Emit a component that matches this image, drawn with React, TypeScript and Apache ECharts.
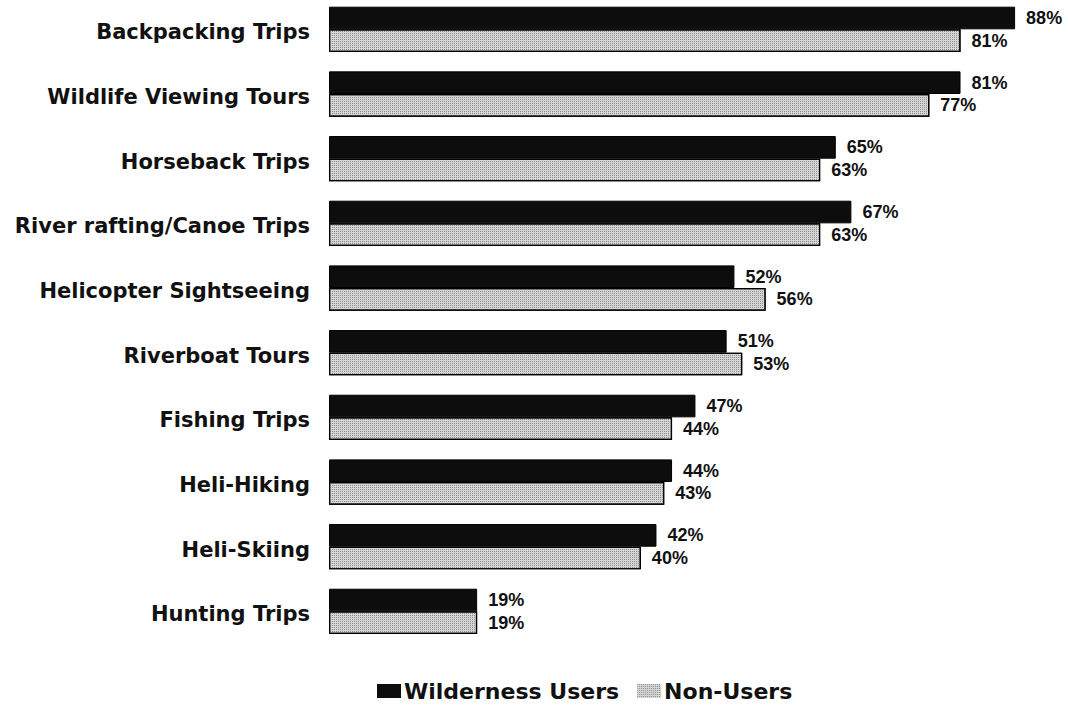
import React, { useEffect, useRef } from "react";
import * as echarts from "echarts";

const categories = [
  "Backpacking Trips",
  "Wildlife Viewing Tours",
  "Horseback Trips",
  "River rafting/Canoe Trips",
  "Helicopter Sightseeing",
  "Riverboat Tours",
  "Fishing Trips",
  "Heli-Hiking",
  "Heli-Skiing",
  "Hunting Trips",
];
const wildernessUsers = [88, 81, 65, 67, 52, 51, 47, 44, 42, 19];
const nonUsers = [81, 77, 63, 63, 56, 53, 44, 43, 40, 19];

export default function App() {
  const ref = useRef<HTMLDivElement>(null);
  useEffect(() => {
    if (!ref.current) return;
    const chart = echarts.init(ref.current, null, { renderer: "svg" });
    const labelStyle = {
      show: true,
      position: "right" as const,
      distance: 11,
      formatter: "{c}%",
      fontFamily: "Liberation Sans, Arial, sans-serif",
      fontWeight: "bold" as const,
      fontSize: 18,
      color: "#111",
    };
    const lightDecal = {
      symbol: "rect",
      symbolSize: 1,
      dashArrayX: [1, 1],
      dashArrayY: [1, 1],
      rotation: 0,
      color: "#8c8c8c",
    };
    chart.setOption({
      animation: false,
      backgroundColor: "#fff",
      textStyle: { fontFamily: "Liberation Sans, Arial, sans-serif" },
      grid: { left: 329, top: 0, width: 701.7, height: 646.7, containLabel: false },
      xAxis: {
        type: "value",
        min: 0,
        max: 90,
        show: false,
      },
      yAxis: {
        type: "category",
        data: categories,
        inverse: true,
        axisLine: { show: false },
        axisTick: { show: false },
        axisLabel: {
          margin: 19,
          formatter: "{a|{value}}",
          rich: {
            a: {
              fontSize: 21,
              fontWeight: "bold",
              color: "#111",
              fontFamily: "DejaVu Sans, sans-serif",
              padding: [6, 0, 0, 0],
            },
          },
        },
      },
      legend: {
        top: 678,
        left: 372,
        icon: "rect",
        itemWidth: 24,
        itemHeight: 14,
        itemGap: 18,
        textStyle: {
          fontSize: 22,
          fontWeight: "bold",
          color: "#111",
          fontFamily: "DejaVu Sans, sans-serif",
          padding: [0, 0, 0, -2],
        },
        data: [
          { name: "Wilderness Users", itemStyle: { borderWidth: 0 } },
          { name: "Non-Users", itemStyle: { borderWidth: 0 } },
        ],
      },
      series: [
        {
          name: "Wilderness Users",
          type: "bar",
          data: wildernessUsers,
          barGap: "0%",
          barCategoryGap: "30%",
          itemStyle: { color: "#0d0d0d", borderColor: "#000", borderWidth: 1 },
          label: labelStyle,
        },
        {
          name: "Non-Users",
          type: "bar",
          data: nonUsers,
          barGap: "0%",
          barCategoryGap: "30%",
          itemStyle: {
            color: "#d6d6d6",
            borderColor: "#000",
            borderWidth: 1.2,
            decal: lightDecal,
          },
          label: labelStyle,
        },
      ],
    });
    return () => chart.dispose();
  }, []);
  return (
    <div
      ref={ref}
      style={{ position: "absolute", left: 0, top: -3, width: 1068, height: 718 }}
    />
  );
}
